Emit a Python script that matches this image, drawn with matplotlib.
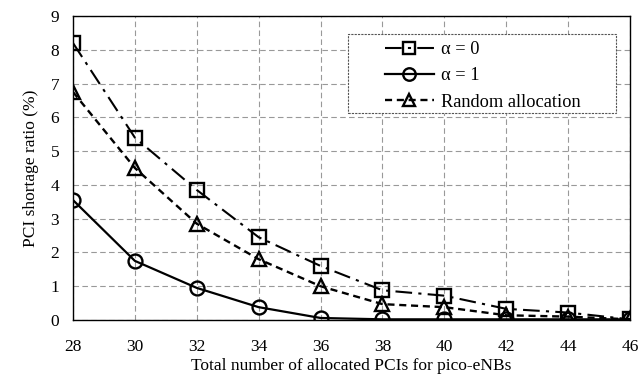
import matplotlib
matplotlib.use("Agg")
import matplotlib.pyplot as plt
from matplotlib.patches import Rectangle

x_pcis = [28, 30, 32, 34, 36, 38, 40, 42, 44, 46]
alpha0 = [8.2, 5.4, 3.85, 2.45, 1.6, 0.88, 0.72, 0.33, 0.22, 0.02]
alpha1 = [3.55, 1.75, 0.95, 0.38, 0.06, 0.02, 0.02, 0.02, 0.02, 0.02]
random_alloc = [6.75, 4.5, 2.85, 1.8, 1.0, 0.47, 0.38, 0.14, 0.1, 0.02]
labels = ["\u03b1 = 0", "\u03b1 = 1", "Random allocation"]

plt.rcParams['font.family'] = ['Liberation Serif', 'DejaVu Serif']

fig = plt.figure(figsize=(6.4, 3.81), dpi=100)
ax = fig.add_axes([73/640, 1 - 320/381, (630-73)/640, (320-16)/381])

ms = 10
ax.plot(x_pcis, alpha0, color='black', linestyle=(0, (8, 3, 1.5, 3)), lw=1.5,
        marker='s', markersize=ms, markerfacecolor='none', markeredgewidth=1.7,
        label=labels[0], zorder=3)
ax.plot(x_pcis, alpha1, color='black', linestyle='-', lw=1.6,
        marker='o', markersize=ms, markerfacecolor='none', markeredgewidth=1.7,
        label=labels[1], zorder=3)
ax.plot(x_pcis, random_alloc, color='black', linestyle=(0, (3, 2)), lw=1.7,
        marker='^', markersize=ms, markerfacecolor='none', markeredgewidth=1.7,
        label=labels[2], zorder=3)

ax.set_xlim(28, 46)
ax.set_ylim(0, 9)
ax.set_xticks(x_pcis)
ax.set_yticks(range(0, 10))
ax.tick_params(axis='both', labelsize=12.5, length=0)
ax.tick_params(axis='x', pad=14)
ax.tick_params(axis='y', pad=10)
ax.grid(True, color='#999999', linestyle=(0, (5, 3)), lw=0.8)
for s in ax.spines.values():
    s.set_color('black')
    s.set_linewidth(1.0)

ax.set_xlabel("Total number of allocated PCIs for pico-eNBs", fontsize=12.5, labelpad=2)
ax.set_ylabel("PCI shortage ratio (%)", fontsize=12.5, labelpad=8)

# legend frame: dashed box
frame = Rectangle((0.4937, 0.681), 0.9749 - 0.4937, 0.9408 - 0.681,
                  transform=ax.transAxes, facecolor='white', edgecolor='#555555',
                  linestyle=(0, (2, 1)), linewidth=0.8, zorder=4)
ax.add_patch(frame)

leg = ax.legend(loc='center', bbox_to_anchor=(0.735, 0.803), fontsize=13.2,
                frameon=False, handlelength=2.7, markerscale=0.9,
                borderpad=0.0, labelspacing=0.5, handletextpad=0.35)
leg.set_zorder(5)

fig.savefig("out.png", dpi=100)
